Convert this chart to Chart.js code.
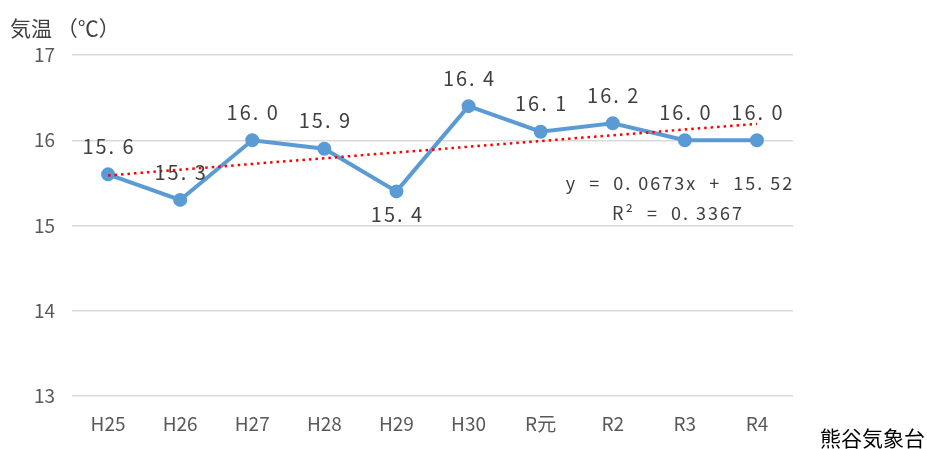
<!DOCTYPE html>
<html>
<head>
<meta charset="utf-8">
<script src="https://cdn.jsdelivr.net/npm/chart.js@4"></script>
<style>
  body { margin: 0; background: #fff; }
  #wrap { width: 927px; height: 449px; position: relative; }
</style>
</head>
<body>
<div id="wrap"><canvas id="tempChart"></canvas></div>
<script>
const years = ["H25", "H26", "H27", "H28", "H29", "H30", "R元", "R2", "R3", "R4"];
const temps = [15.6, 15.3, 16.0, 15.9, 15.4, 16.4, 16.1, 16.2, 16.0, 16.0];
const labelBelow = [false, false, false, false, true, false, false, false, false, false];
const trendSlope = 0.0673;
const trendIntercept = 15.52;
const trendR2 = 0.3367;
const yTicks = [13, 14, 15, 16, 17];

const FONT = '"Noto Sans CJK JP", "Noto Sans", sans-serif';
const trendValues = years.map((_, i) => trendSlope * (i + 1) + trendIntercept);

const extraText = {
    id: 'extraText',
    afterDatasetsDraw(chart) {
        const ctx = chart.ctx;
        const meta = chart.getDatasetMeta(0);
        ctx.save();
        ctx.fillStyle = '#404040';
        ctx.font = '20px ' + FONT;
        ctx.letterSpacing = '2px';
        ctx.textAlign = 'center';
        ctx.textBaseline = 'middle';
        meta.data.forEach((pt, i) => {
            const txt = temps[i].toFixed(1).replace('.', '. ');
            const dy = labelBelow[i] ? 23 : -28;
            ctx.fillText(txt, pt.x + 1, pt.y + dy);
        });

        ctx.font = '18px ' + FONT;
        ctx.letterSpacing = '2px';
        ctx.fillText('y  =  0. ' + trendSlope.toFixed(4).slice(2) + 'x  +  ' + trendIntercept.toFixed(2).replace('.', '. '), 680, 183);
        ctx.fillText('R²  =  0. ' + trendR2.toFixed(4).slice(2), 678, 213);

        ctx.letterSpacing = '0px';
        ctx.textAlign = 'left';
        ctx.font = '21px ' + FONT;
        ctx.fillStyle = '#404040';
        ctx.fillText('気温 （℃）', 10, 28);
        ctx.fillStyle = '#000';
        ctx.fillText('熊谷気象台', 820, 438);
        ctx.restore();
    }
};

const ctx = document.getElementById('tempChart').getContext('2d');
new Chart(ctx, {
    type: 'line',
    data: {
        labels: years,
        datasets: [{
            label: '気温',
            data: temps,
            borderColor: '#5B9BD5',
            backgroundColor: '#5B9BD5',
            borderWidth: 4,
            pointRadius: 5,
            pointHoverRadius: 5,
            tension: 0,
            order: 2
        }, {
            label: '線形近似',
            data: trendValues,
            borderColor: '#FF0000',
            borderWidth: 2.5,
            borderDash: [2.5, 4],
            pointRadius: 0,
            tension: 0,
            order: 1
        }]
    },
    options: {
        responsive: true,
        maintainAspectRatio: false,
        animation: false,
        layout: { padding: { top: 55, right: 134, bottom: 0, left: 0 } },
        plugins: {
            legend: { display: false },
            tooltip: { enabled: false }
        },
        scales: {
            x: {
                offset: true,
                grid: { display: false, drawTicks: false },
                border: { display: false },
                ticks: { color: '#595959', font: { family: FONT, size: 19 }, padding: 16 },
                afterFit(scale) { scale.height = 53; }
            },
            y: {
                min: 13,
                max: 17,
                afterBuildTicks(scale) { scale.ticks = yTicks.map(v => ({ value: v })); },
                grid: { color: '#D9D9D9', lineWidth: 1.5, drawTicks: false },
                border: { display: false },
                ticks: { color: '#595959', font: { family: FONT, size: 19 }, padding: 17 },
                afterFit(scale) { scale.width = 72; }
            }
        }
    },
    plugins: [extraText]
});
</script>
</body>
</html>
